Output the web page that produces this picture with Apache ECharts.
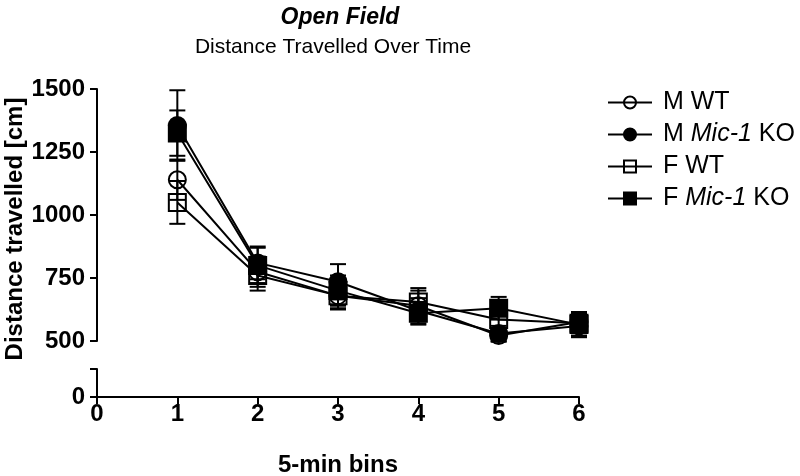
<!DOCTYPE html>
<html>
<head>
<meta charset="utf-8">
<script src="https://cdn.jsdelivr.net/npm/echarts@6/dist/echarts.min.js"></script>
<style>
html, body { margin: 0; padding: 0; background: #fff; }
#chart { width: 800px; height: 476px; }
</style>
</head>
<body>
<div id="chart"></div>
<script>
// 5-min bins
const bins = [1, 2, 3, 4, 5, 6];
const xTicks = [0, 1, 2, 3, 4, 5, 6];
const yTicksUpper = [500, 750, 1000, 1250, 1500];

// means and SEM
const mWT = [1140, 775, 680, 640, 522, 575];
const mWTerr = [80, 60, 55, 60, 25, 40];
const mKO = [1355, 810, 735, 620, 530, 560];
const mKOerr = [140, 65, 70, 50, 30, 45];
const fWT = [1050, 760, 680, 655, 585, 570];
const fWTerr = [85, 60, 50, 55, 40, 40];
const fKO = [1325, 800, 700, 610, 630, 565];
const fKOerr = [90, 70, 60, 45, 45, 45];

const groups = [
    { name: 'M WT', mean: mWT, err: mWTerr, symbol: 'circle', filled: false },
    { name: 'M Mic-1 KO', mean: mKO, err: mKOerr, symbol: 'circle', filled: true },
    { name: 'F WT', mean: fWT, err: fWTerr, symbol: 'rect', filled: false },
    { name: 'F Mic-1 KO', mean: fKO, err: fKOerr, symbol: 'rect', filled: true }
];

const font = 'Liberation Sans, Arial, sans-serif';

function errorBar(params, api) {
    const x = api.value(0);
    const lo = api.coord([x, api.value(1)]);
    const hi = api.coord([x, api.value(2)]);
    const w = 8;
    const style = { stroke: '#000', lineWidth: 2 };
    return {
        type: 'group',
        children: [
            { type: 'line', shape: { x1: lo[0], y1: lo[1], x2: hi[0], y2: hi[1] }, style: style },
            { type: 'line', shape: { x1: lo[0] - w, y1: lo[1], x2: lo[0] + w, y2: lo[1] }, style: style },
            { type: 'line', shape: { x1: hi[0] - w, y1: hi[1], x2: hi[0] + w, y2: hi[1] }, style: style }
        ]
    };
}

const series = [];
groups.forEach((g) => {
    series.push({
        type: 'custom',
        xAxisIndex: 0,
        yAxisIndex: 0,
        renderItem: errorBar,
        z: 1,
        silent: true,
        data: bins.map((b, i) => [b, g.mean[i] - g.err[i], g.mean[i] + g.err[i]])
    });
});
groups.forEach((g) => {
    series.push({
        name: g.name,
        type: 'line',
        xAxisIndex: 0,
        yAxisIndex: 0,
        symbol: g.symbol,
        symbolSize: 17,
        z: 3,
        lineStyle: { color: '#000', width: 2 },
        itemStyle: {
            color: g.filled ? '#000' : 'rgba(0,0,0,0)',
            borderColor: '#000',
            borderWidth: 2
        },
        data: bins.map((b, i) => [b, g.mean[i]])
    });
});

const axisLine = { show: true, lineStyle: { color: '#000', width: 2 } };
const axisTick = { show: true, length: 7, lineStyle: { color: '#000', width: 2 } };
const tickLabel = { color: '#000', fontSize: 24, fontWeight: 'bold', fontFamily: font };

const option = {
    animation: false,
    title: [
        {
            text: 'Open Field',
            left: 340,
            textAlign: 'center',
            top: 6,
            padding: 0,
            textStyle: { fontSize: 23, fontWeight: 'bold', fontStyle: 'italic', color: '#000', fontFamily: font }
        },
        {
            text: 'Distance Travelled Over Time',
            left: 333,
            textAlign: 'center',
            top: 37,
            padding: 0,
            textStyle: { fontSize: 21, fontWeight: 'normal', color: '#000', fontFamily: font }
        }
    ],
    legend: {
        orient: 'vertical',
        left: 602,
        top: 85,
        itemWidth: 44,
        itemHeight: 15,
        itemGap: 7,
        data: groups.map((g) => g.name),
        formatter: (name) => {
            if (name.indexOf('Mic-1') < 0) {
                return '{n|' + name + '}';
            }
            const parts = name.split('Mic-1');
            return '{n|' + parts[0] + '}{i|Mic-1}{n|' + parts[1] + '}';
        },
        textStyle: {
            fontSize: 25,
            color: '#000',
            fontFamily: font,
            padding: [0, 0, 0, 6],
            rich: {
                n: { fontSize: 25, color: '#000', fontFamily: font },
                i: { fontSize: 25, color: '#000', fontFamily: font, fontStyle: 'italic' }
            }
        }
    },
    grid: [
        { left: 97, width: 482, top: 89, height: 252, outerBoundsMode: 'none' },
        { left: 97, width: 482, top: 369, height: 28, outerBoundsMode: 'none' }
    ],
    xAxis: [
        {
            gridIndex: 0, type: 'value', min: 0, max: 6, interval: 1,
            axisLine: { show: false }, axisTick: { show: false },
            axisLabel: { show: false }, splitLine: { show: false }
        },
        {
            gridIndex: 1, type: 'value', min: xTicks[0], max: xTicks[xTicks.length - 1], interval: 1,
            axisLine: axisLine, axisTick: axisTick,
            axisLabel: Object.assign({ margin: 5 }, tickLabel),
            splitLine: { show: false },
            name: '5-min bins', nameLocation: 'middle', nameGap: 56,
            nameTextStyle: { fontSize: 24, fontWeight: 'bold', color: '#000', fontFamily: font }
        }
    ],
    yAxis: [
        {
            gridIndex: 0, type: 'value', min: yTicksUpper[0], max: yTicksUpper[yTicksUpper.length - 1], interval: 250,
            axisLine: axisLine, axisTick: axisTick,
            axisLabel: Object.assign({ margin: 12, formatter: (v) => String(v) }, tickLabel),
            splitLine: { show: false }
        },
        {
            gridIndex: 1, type: 'value', min: 0, max: 100, interval: 100,
            axisLine: axisLine, axisTick: axisTick,
            axisLabel: Object.assign({ margin: 12, formatter: (v) => (v === 0 ? '0' : '') }, tickLabel),
            splitLine: { show: false }
        }
    ],
    graphic: [
        {
            type: 'text',
            x: 15,
            y: 229,
            rotation: Math.PI / 2,
            style: {
                text: 'Distance travelled [cm]',
                fontSize: 24,
                fontWeight: 'bold',
                fontFamily: font,
                fill: '#000',
                align: 'center',
                verticalAlign: 'middle'
            }
        }
    ],
    series: series
};

const chart = echarts.init(document.getElementById('chart'));
chart.setOption(option);
</script>
</body>
</html>
